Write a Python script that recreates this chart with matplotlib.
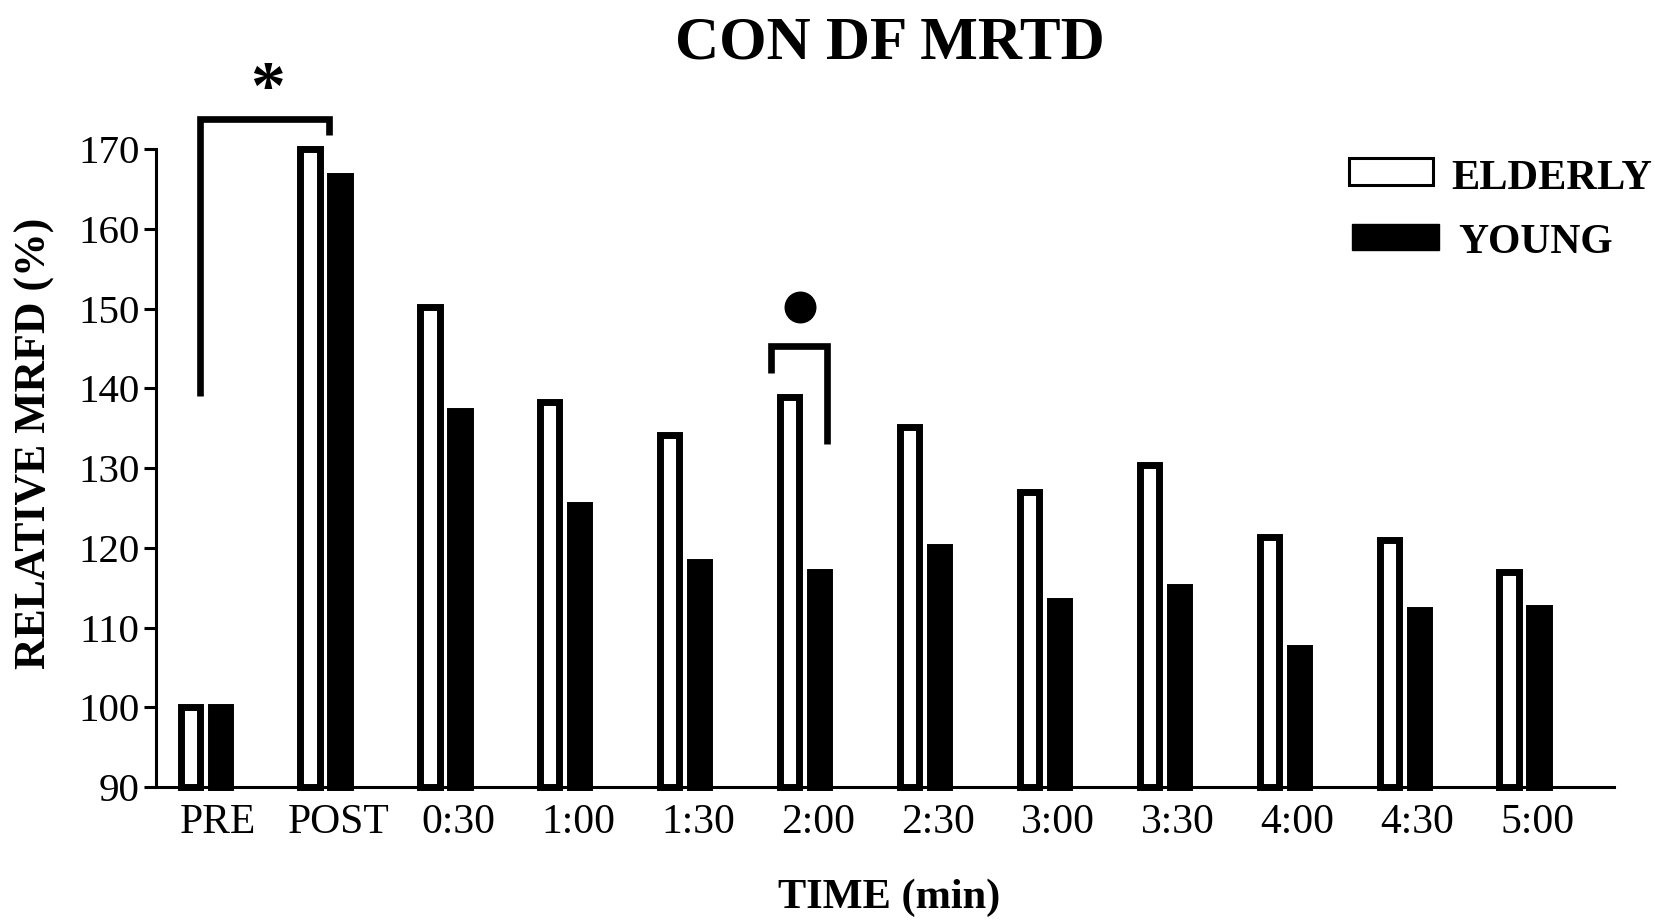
import numpy as np
import matplotlib
matplotlib.use("Agg")
import matplotlib.pyplot as plt
from matplotlib.patches import Rectangle

# relative MRFD (%) per time point
time_labels = ["PRE", "POST", "0:30", "1:00", "1:30", "2:00",
               "2:30", "3:00", "3:30", "4:00", "4:30", "5:00"]
elderly = [100, 170, 150.2, 138.3, 134.2, 138.9, 135.2, 127.0, 130.4, 121.4, 121.0, 117.0]
young = [100, 166.6, 137.2, 125.3, 118.2, 117.0, 120.1, 113.3, 115.1, 107.4, 112.2, 112.4]
y_ticks = [90, 100, 110, 120, 130, 140, 150, 160, 170]

plt.rcParams["font.family"] = ["Liberation Serif", "DejaVu Serif"]

fig = plt.figure(figsize=(16.56, 9.22), dpi=100)
ax = fig.add_axes([0.0942, 0.1464, 0.8804, 0.692])

x = np.arange(len(time_labels))
base = y_ticks[0]
bw = 0.16
off = 0.125
lw = 5

ax.bar(x - off, np.array(elderly) - base, bottom=base, width=bw,
       facecolor="white", edgecolor="black", linewidth=lw, clip_on=False, zorder=3)
ax.bar(x + off, np.array(young) - base, bottom=base, width=bw,
       facecolor="black", edgecolor="black", linewidth=lw, clip_on=False, zorder=3)

ax.set_xlim(-0.41, 11.75)
ax.set_ylim(90, 170)
ax.set_yticks(y_ticks)
# labels sit a little right of the group centres
ax.set_xticks(x + 0.11)
ax.set_xticklabels(time_labels)
ax.tick_params(axis="x", length=0, labelsize=30, pad=12)
ax.tick_params(axis="y", length=9, width=2.2, labelsize=29.5, pad=3)

for side in ["top", "right"]:
    ax.spines[side].set_visible(False)
for side in ["left", "bottom"]:
    ax.spines[side].set_linewidth(2.2)

# significance bracket PRE vs POST
ax.plot([-0.04, -0.04, 1.03, 1.03], [139.0, 173.8, 173.8, 171.8],
        color="black", lw=4.8, clip_on=False, solid_capstyle="butt", solid_joinstyle="miter")
ax.text(0.52, 177.1, "*", fontsize=50, fontweight="bold", ha="center", va="center")

# bracket at 2:00
ax.plot([4.72, 4.72, 5.19, 5.19], [141.9, 145.3, 145.3, 133.0],
        color="black", lw=4.8, clip_on=False, solid_capstyle="butt", solid_joinstyle="miter")
ax.plot([4.96], [150.2], "o", color="black", markersize=22, clip_on=False)

fig.text(0.5375, 0.953, "CON DF MRTD", fontsize=44, fontweight="bold", ha="center", va="center")
fig.text(0.537, 0.026, "TIME (min)", fontsize=30.5, fontweight="bold", ha="center", va="center")
fig.text(0.021, 0.5195, "RELATIVE MRFD (%)", fontsize=31.5, fontweight="bold",
         rotation=90, ha="center", va="center")

# legend
fig.patches.append(Rectangle((1349 / 1656, 1 - 185 / 922), 84 / 1656, 27 / 922,
                             transform=fig.transFigure, facecolor="white",
                             edgecolor="black", linewidth=2.2))
fig.patches.append(Rectangle((1352 / 1656, 1 - 250 / 922), 87 / 1656, 26 / 922,
                             transform=fig.transFigure, facecolor="black",
                             edgecolor="black", linewidth=1))
fig.text(1451 / 1656, 1 - 179 / 922, "ELDERLY", fontsize=30.5, fontweight="bold", va="center")
fig.text(1458 / 1656, 1 - 243 / 922, "YOUNG", fontsize=30, fontweight="bold", va="center")

fig.savefig("out.png", dpi=100)
